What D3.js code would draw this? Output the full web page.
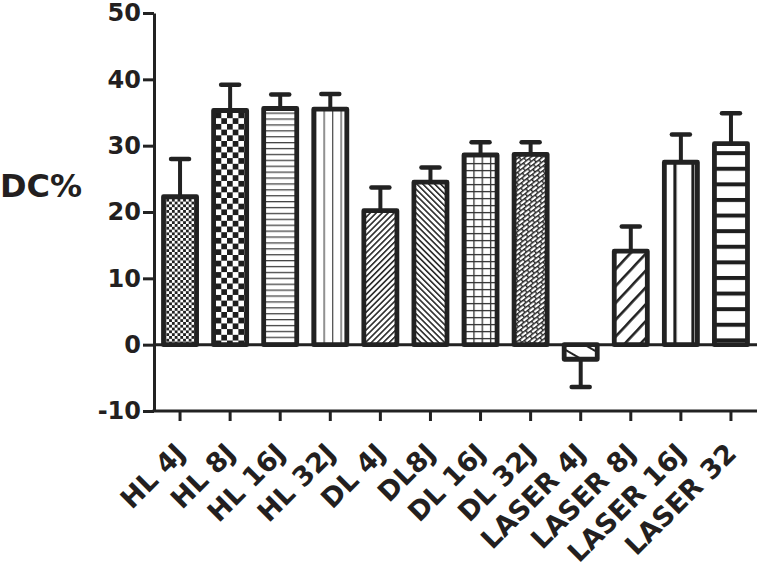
<!DOCTYPE html>
<html>
<head>
<meta charset="utf-8">
<script src="https://cdn.jsdelivr.net/npm/d3@7"></script>
<style>
  html, body { margin: 0; padding: 0; background: #fff; }
  svg { display: block; }
  text { font-family: "DejaVu Sans", sans-serif; font-weight: bold; fill: #231f20; }
</style>
</head>
<body>
<script>
// ---- data ----
const categories = ["HL 4J", "HL 8J", "HL 16J", "HL 32J", "DL 4J", "DL8J", "DL 16J", "DL 32J", "LASER 4J", "LASER 8J", "LASER 16J", "LASER 32"];
const means  = [22.3, 35.3, 35.6, 35.5, 20.2, 24.5, 28.6, 28.7, -2.2, 14.1, 27.5, 30.3];
const errors = [5.7, 3.9, 2.1, 2.3, 3.5, 2.2, 1.9, 1.8, 4.2, 3.7, 4.2, 4.6];
const yTicks = [-10, 0, 10, 20, 30, 40, 50];
const yLabel = "DC%";

// ---- style (pattern kind per bar) ----
const patternKinds = ["fineChecker", "bigChecker", "hLines", "vLines", "diagUp", "diagDown", "grid", "brick", "sparseDown", "sparseUp", "thickV", "thickH"];

const W = 759, H = 568;
const ink = "#222";
const svg = d3.select("body").append("svg").attr("width", W).attr("height", H);

const x = d3.scaleBand().domain(categories).range([155, 756]).paddingInner(0.34).paddingOuter(0.17);
const y = d3.scaleLinear().domain([-10, 50]).range([411, 13]);

const defs = svg.append("defs");

function makePattern(i, kind, d) {
  const bx = x(categories[i]);
  const cx = bx + x.bandwidth() / 2;
  const p = defs.append("pattern").attr("id", "pat" + i).attr("patternUnits", "userSpaceOnUse");
  const fillBg = (w, h) => p.append("rect").attr("width", w).attr("height", h).attr("fill", "#fff");
  switch (kind) {
    case "fineChecker": {
      const s = 2.8;
      p.attr("width", 2 * s).attr("height", 2 * s).attr("x", bx);
      fillBg(2 * s, 2 * s);
      p.append("rect").attr("width", s).attr("height", s).attr("fill", "#222");
      p.append("rect").attr("x", s).attr("y", s).attr("width", s).attr("height", s).attr("fill", "#222");
      break;
    }
    case "bigChecker": {
      const s = 5.7;
      p.attr("width", 2 * s).attr("height", 2 * s).attr("x", bx + 2).attr("y", y(d) + 2);
      fillBg(2 * s, 2 * s);
      p.append("rect").attr("width", s).attr("height", s).attr("fill", "#1e1e1e");
      p.append("rect").attr("x", s).attr("y", s).attr("width", s).attr("height", s).attr("fill", "#1e1e1e");
      break;
    }
    case "hLines": {
      const s = 5.9;
      p.attr("width", 10).attr("height", s).attr("y", y(d) + 4);
      fillBg(10, s);
      p.append("rect").attr("y", 0).attr("width", 10).attr("height", 1.3).attr("fill", "#444");
      break;
    }
    case "vLines": {
      const s = 8.5;
      p.attr("width", s).attr("height", 10).attr("x", cx - 6.8);
      fillBg(s, 10);
      p.append("rect").attr("x", 0).attr("width", 1.3).attr("height", 10).attr("fill", "#555");
      break;
    }
    case "diagUp":
    case "diagDown": {
      const s = 4.2;
      p.attr("width", s).attr("height", 10).attr("patternTransform", `rotate(${kind === "diagUp" ? 45 : -45})`);
      fillBg(s, 10);
      p.append("rect").attr("width", 1.6).attr("height", 10).attr("fill", "#2a2a2a");
      break;
    }
    case "grid": {
      const sw = 8.3, sh = 7;
      p.attr("width", sw).attr("height", sh).attr("x", bx + 1).attr("y", y(d) + 1);
      fillBg(sw, sh);
      p.append("rect").attr("width", 1.3).attr("height", sh).attr("fill", "#333");
      p.append("rect").attr("width", sw).attr("height", 1.3).attr("fill", "#333");
      break;
    }
    case "brick": {
      const bw = 7, bh = 3.6;
      p.attr("width", bw).attr("height", 2 * bh).attr("patternTransform", "rotate(-38)");
      fillBg(bw, 2 * bh);
      const c = "#262626";
      p.append("rect").attr("y", 0).attr("width", bw).attr("height", 1.4).attr("fill", c);
      p.append("rect").attr("y", bh).attr("width", bw).attr("height", 1.4).attr("fill", c);
      p.append("rect").attr("x", 0).attr("y", 0).attr("width", 1.4).attr("height", bh).attr("fill", c);
      p.append("rect").attr("x", bw / 2).attr("y", bh).attr("width", 1.4).attr("height", bh).attr("fill", c);
      break;
    }
    case "sparseDown": {
      const s = 14;
      p.attr("width", s).attr("height", 20).attr("x", cx).attr("patternTransform", "rotate(-60)");
      fillBg(s, 20);
      p.append("rect").attr("width", 2).attr("height", 20).attr("fill", "#222");
      break;
    }
    case "sparseUp": {
      const s = 11.5;
      p.attr("width", s).attr("height", 20).attr("patternTransform", "rotate(43)");
      fillBg(s, 20);
      p.append("rect").attr("width", 2.6).attr("height", 20).attr("fill", "#222");
      break;
    }
    case "thickV": {
      const s = 18;
      p.attr("width", s).attr("height", 10).attr("x", cx - 7.5);
      fillBg(s, 10);
      p.append("rect").attr("width", 3.2).attr("height", 10).attr("fill", "#1e1e1e");
      break;
    }
    case "thickH": {
      const s = 15.6;
      p.attr("width", 10).attr("height", s).attr("y", y(d) + 7.5);
      fillBg(10, s);
      p.append("rect").attr("width", 10).attr("height", 4).attr("fill", "#1e1e1e");
      break;
    }
  }
}
means.forEach((d, i) => makePattern(i, patternKinds[i], d));

// zero line
svg.append("line")
  .attr("x1", 154).attr("x2", 757)
  .attr("y1", y(0)).attr("y2", y(0))
  .attr("stroke", ink).attr("stroke-width", 3);

// error bars
const eb = svg.append("g");
means.forEach((d, i) => {
  const cx = x(categories[i]) + x.bandwidth() / 2;
  const tip = d >= 0 ? d + errors[i] : d - errors[i];
  eb.append("line").attr("x1", cx).attr("x2", cx).attr("y1", y(d)).attr("y2", y(tip))
    .attr("stroke", ink).attr("stroke-width", 4);
  eb.append("line").attr("x1", cx - 9).attr("x2", cx + 9).attr("y1", y(tip)).attr("y2", y(tip))
    .attr("stroke", ink).attr("stroke-width", 4.5).attr("stroke-linecap", "round");
});

// bars
svg.append("g").selectAll("rect")
  .data(means)
  .join("rect")
  .attr("x", (d, i) => x(categories[i]))
  .attr("width", x.bandwidth())
  .attr("y", d => y(Math.max(0, d)))
  .attr("height", d => Math.abs(y(d) - y(0)))
  .attr("fill", (d, i) => `url(#pat${i})`)
  .attr("stroke", ink)
  .attr("stroke-width", 4.8)
  .attr("stroke-linejoin", "round");

// y axis
const yAxis = svg.append("g").attr("transform", "translate(154,0)")
  .call(d3.axisLeft(y).tickValues(yTicks).tickFormat(d => String(d)).tickSize(11).tickSizeOuter(0).tickPadding(2));
yAxis.select(".domain").attr("stroke", ink).attr("stroke-width", 3);
yAxis.selectAll(".tick line").attr("stroke", ink).attr("stroke-width", 3);
yAxis.selectAll(".tick text").attr("font-size", 24).attr("font-family", "DejaVu Sans").attr("font-weight", "bold").attr("fill", "#231f20");

// x axis
const xAxis = svg.append("g").attr("transform", `translate(0,${y(-10)})`)
  .call(d3.axisBottom(x).tickSize(10).tickSizeOuter(0).tickPadding(4));
xAxis.select(".domain").attr("stroke", ink).attr("stroke-width", 3).attr("d", "M152.5,0H757");
xAxis.selectAll(".tick line").attr("stroke", ink).attr("stroke-width", 3);
xAxis.selectAll(".tick text")
  .attr("font-size", 27).attr("font-family", "DejaVu Sans").attr("font-weight", "bold").attr("fill", "#231f20")
  .attr("text-anchor", "end")
  .attr("dy", null)
  .attr("y", 0)
  .attr("transform", "translate(7,44) rotate(-45)");

// y label
svg.append("text").attr("x", 0).attr("y", 186).attr("dy", "0.35em")
  .attr("font-size", 32).text(yLabel);
</script>
</body>
</html>
